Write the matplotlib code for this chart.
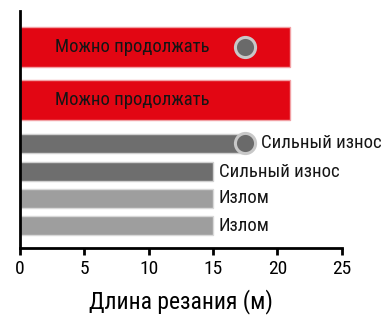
import matplotlib
matplotlib.use("Agg")
import matplotlib.pyplot as plt

# data
labels = ["Можно продолжать", "Можно продолжать", "Сильный износ",
          "Сильный износ", "Излом", "Излом"]
values = [21, 21, 17.5, 15, 15, 15]
marker_x = [17.5, None, 17.5, None, None, None]
x_ticks = [0, 5, 10, 15, 20, 25]
x_label = "Длина резания (м)"

# layout / style
ypos = [0, 1.93, 3.51, 4.53, 5.51, 6.51]
heights = [1.45, 1.45, 0.69, 0.69, 0.69, 0.69]
colors = ["#e20613", "#e20613", "#6e6e6e", "#6e6e6e", "#9e9e9e", "#9e9e9e"]
edges = ["#f2a0a4", "#f2a0a4", "#d0d0d0", "#d0d0d0", "#d8d8d8", "#d8d8d8"]
inside = [True, True, False, False, False, False]

plt.rcParams['font.family'] = ['Roboto Condensed', 'Roboto', 'DejaVu Sans']

fig = plt.figure(figsize=(3.88, 3.15), dpi=100)
ax = fig.add_axes([0.0515, 0.213, 0.881 - 0.0515, 0.965 - 0.213])

ax.barh(ypos, values, height=heights, color=colors, edgecolor=edges, linewidth=1)

for y, v, m, lab, ins in zip(ypos, values, marker_x, labels, inside):
    if m is not None:
        ax.plot([m], [y], 'o', ms=14.5, mfc="#6a6a6a", mec="#c8c8c8", mew=2.2, zorder=5)
    if ins:
        ax.text(2.7, y, lab, va='center', ha='left', fontsize=13.5, color="#151515")
    else:
        tx = (m + 1.25) if m is not None else v + 0.45
        ax.text(tx, y, lab, va='center', ha='left', fontsize=13.5, color="#151515")

ax.set_xlim(0, 25)
ax.set_ylim(7.31, -1.31)
ax.set_xticks(x_ticks)
ax.set_yticks([])
ax.set_xlabel(x_label, fontsize=17, labelpad=8)
ax.tick_params(axis='x', labelsize=14, width=2, length=5, color='black', pad=4)
for s in ['top', 'right']:
    ax.spines[s].set_visible(False)
for s in ['left', 'bottom']:
    ax.spines[s].set_linewidth(2)
    ax.spines[s].set_color('black')

fig.savefig("out.png", dpi=100)
